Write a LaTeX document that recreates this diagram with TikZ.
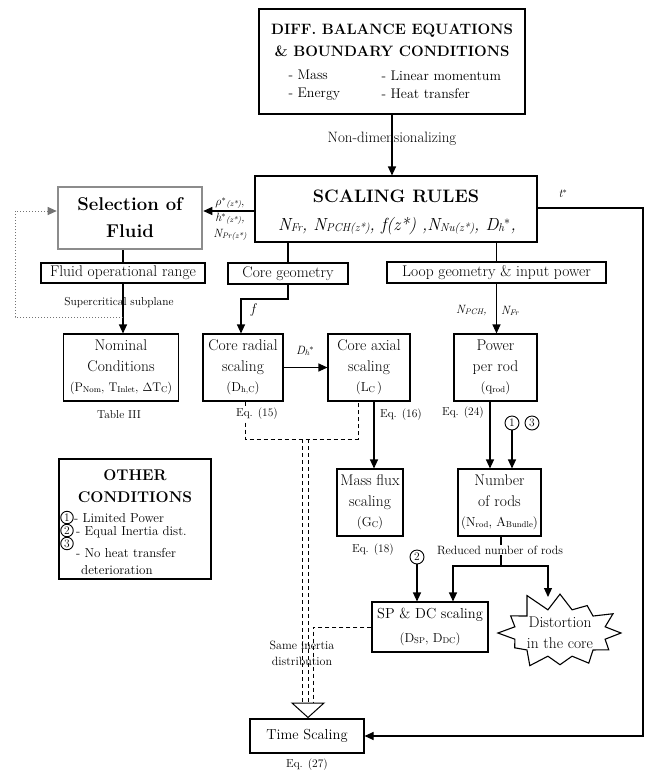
\documentclass[tikz,border=0pt]{standalone}
\usepackage{fontspec}
\usetikzlibrary{arrows.meta,shapes.symbols}
\newcommand\fsz[2]{\fontsize{#1}{#2}\selectfont}
\newcommand\lsb[1]{\raisebox{-0.8pt}{\fontsize{8.5}{9}\selectfont #1}}
\newcommand\isb[1]{\raisebox{-1.5pt}{\fontsize{11.5}{11}\selectfont\itshape #1}}
\newcommand\ssb[1]{\raisebox{-1pt}{\fontsize{8}{8}\selectfont\itshape #1}}
\tikzset{
  bx/.style={draw, line width=1.1pt, inner sep=0pt, align=center, font=\fsz{15.5}{20.5}},
  lbl/.style={inner sep=1pt, font=\fsz{11.5}{16}},
  circ/.style={draw, circle, line width=0.9pt, inner sep=0pt, minimum size=14pt, font=\fsz{11.5}{11}},
  conn/.style={line width=1.1pt, -{Triangle[length=9pt,width=8pt]}},
  plain/.style={line width=1.1pt},
  dsh/.style={line width=1pt, dash pattern=on 4pt off 3pt},
  octext/.style={anchor=base west, inner sep=0pt, font=\fsz{13}{16}},
}
\begin{document}
\begin{tikzpicture}[x=1pt,y=-1pt]
\useasboundingbox (0,0) rectangle (651,772);
% boxes
\node[bx, minimum width=266pt, minimum height=105pt] (diff) at (392,61.5) {};
\node[font=\bfseries\fsz{15}{22}, align=center] (difft) at (392,40) {DIFF. BALANCE EQUATIONS\\ \& BOUNDARY CONDITIONS};
\node[font=\fsz{14}{18}, align=left, anchor=west] (dl1) at (285,85) {- Mass\\ - Energy};
\node[font=\fsz{14}{18}, align=left, anchor=west] (dl2) at (378,85) {- Linear momentum\\ - Heat transfer};
\node[bx, minimum width=282pt, minimum height=66pt] (scal) at (396,209) {};
\node[font=\bfseries\fsz{18}{24}] (scalt) at (396,196) {SCALING RULES};
\node[font=\fsz{17.5}{20}\itshape] (scalf) at (397,226) {N\isb{Fr}, N\isb{PCH(z*)}, f(z*) ,N\isb{Nu(z*)}, D\isb{h}$^{*}$,};
\node[bx, draw=black!45, line width=2.6pt, minimum width=144pt, minimum height=62pt, font=\bfseries\fsz{18.5}{27}] (sel) at (130,218) {Selection of\\ Fluid};
\node[bx, minimum width=164pt, minimum height=20pt] (for) at (123,273) {Fluid operational range};
\node[bx, minimum width=115pt, minimum height=67pt] (nom) at (121,367.5) {Nominal\\ Conditions\\ {\fsz{12.5}{18}(P\lsb{Nom}, T\lsb{Inlet}, $\Delta$T\lsb{C})}};
\node[bx, minimum width=120pt, minimum height=21pt] (cg) at (288,273.5) {Core geometry};
\node[bx, minimum width=219pt, minimum height=21pt] (lg) at (496.5,272.5) {Loop geometry \& input power};
\node[bx, minimum width=80pt, minimum height=67pt] (crad) at (243,367.5) {Core radial\\ scaling\\ {\fsz{13}{18}(D\lsb{h,C})}};
\node[bx, minimum width=82pt, minimum height=67pt] (cax) at (369,367.5) {Core axial\\ scaling\\ {\fsz{13}{18}(L\lsb{C}\,)}};
\node[bx, minimum width=83pt, minimum height=67pt] (ppr) at (495.5,367.5) {Power\\ per rod\\ {\fsz{13}{18}(q\lsb{rod})}};
\node[bx, minimum width=66pt, minimum height=67pt] (mf) at (370,502.5) {Mass flux\\ scaling\\ {\fsz{13}{18}(G\lsb{C})}};
\node[bx, minimum width=83pt, minimum height=67pt] (nr) at (499.5,502.5) {Number\\ of rods\\ {\fsz{13}{18}(N\lsb{rod}, A\lsb{Bundle})}};
\node[bx, minimum width=116pt, minimum height=50pt, font=\fsz{14.5}{20}] (spdc) at (430,627) {SP \& DC scaling\\[4pt] {\fsz{13}{18}(D\lsb{SP}, D\lsb{DC})}};
\node[bx, minimum width=114pt, minimum height=34pt, font=\fsz{14.5}{20}] (ts) at (307,736) {Time Scaling};
\node[bx, minimum width=152pt, minimum height=120pt] (oc) at (135,519) {};
\node[draw, line width=1.1pt, starburst, starburst points=12, starburst point height=20pt, random starburst=11, minimum width=131pt, minimum height=88pt, inner sep=0pt, align=center, font=\fsz{15.5}{20.5}] (sb) at (560,633) {Distortion\\ in the core};
% other conditions content
\node[font=\bfseries\fsz{15.5}{22}, align=center] (octitle) at (135,486) {OTHER\\ CONDITIONS};
\node[circ, minimum size=12.5pt] (o1) at (67,517.5) {1};
\node[circ, minimum size=12.5pt] (o2) at (67,530.5) {2};
\node[circ, minimum size=12.5pt] (o3) at (67,543.5) {3};
\node[octext] (t1) at (74,522) {- Limited Power};
\node[octext] (t2) at (76,535.5) {- Equal Inertia dist.};
\node[octext] (t3) at (76,557) {- No heat transfer};
\node[octext] (t4) at (81,574) {deterioration};
% labels
\node[lbl, font=\fsz{15}{16}, fill=white, inner sep=2pt] (nd) at (392,139) {Non-dimensionalizing};
\node[lbl, font=\fsz{12}{16}, align=center] (rho) at (230,219) {$\rho^{*}$\ssb{(z*)},\\ \itshape h$^{*}$\ssb{(z*)},\\ \itshape N\ssb{Pr(z*)}};
\node[lbl, font=\fsz{12}{16}] (tst) at (563,194) {\itshape t$^{*}$};
\node[lbl, fill=white] (scp) at (119,303) {Supercritical subplane};
\node[lbl] (tab) at (119,415) {Table III};
\node[lbl, font=\fsz{14}{16}] (fl) at (253,310) {\itshape f};
\node[lbl, font=\fsz{12}{16}] (dh) at (305,351) {\itshape D\ssb{h}$^{*}$};
\node[lbl, anchor=east, font=\fsz{12}{16}] (npch) at (488,311) {\itshape N\ssb{PCH},};
\node[lbl, anchor=west, font=\fsz{12}{16}] (nfr) at (500,311) {\itshape N\ssb{Fr}};
\node[circ] (c1) at (512,423) {1};
\node[circ] (c3) at (532,423) {3};
\node[circ] (c2) at (417,557) {2};
% connectors
\draw[conn] (diff.south) -- (scal.north -| diff.south);
\draw[conn] ([yshift=7pt]sel.east -| scal.west) -- ([yshift=7pt]sel.east);
\draw[plain] (sel.south -| for.north) -- (for.north);
\draw[conn] (for.south) -- (nom.north -| for.south);
\coordinate (dstart) at (123,317);
\coordinate (dcorner) at (15,317);
\draw[line width=1pt, black!55, dotted, -{Triangle[length=9pt,width=8pt]}] (dstart) -- (dcorner) |- ([yshift=7pt]sel.west);
\draw[plain] (scal.south -| cg.north) -- (cg.north);
\draw[plain] (scal.south -| lg.north) -- (lg.north);
\coordinate (fk) at (241,299);
\draw[conn] (cg.south) |- (fk) -- (crad.north -| fk);
\draw[conn] (lg.south) -- (ppr.north -| lg.south);
\draw[conn] (crad.east) -- (cax.west);
\coordinate (x374) at (374,0);
\coordinate (x490) at (490,0);
\coordinate (x453) at (453,0);
\draw[conn] (cax.south -| x374) -- (mf.north -| x374);
\draw[conn] (ppr.south -| x490) -- (nr.north -| x490);
\draw[conn] (c1) -- (nr.north -| c1);
\coordinate (rj) at (501,566);
\coordinate (sbin) at (548,597);
\draw[plain] (nr.south -| rj) -- (rj);
\draw[conn] (rj) -| (spdc.north -| x453);
\draw[conn] (rj) -| (sbin);
\draw[conn] (c2) -- (spdc.north -| c2);
\coordinate (tc) at (643,208);
\draw[conn] (scal.east |- tc) -- (tc) |- (ts.east);
% dashed inertia lines
\coordinate (x245) at (245,0);
\coordinate (x358) at (358,0);
\coordinate (dk) at (358,439);
\draw[dsh] (crad.south -| x245) |- (dk) -- (cax.south -| x358);
\draw[dsh] (302,439) -- (302,703);
\draw[dsh] (308,439) -- (308,703);
\draw[dsh] (spdc.west) -- (313,627) -- (313,703);
\draw[line width=1pt, fill=white] (292,703) -- (324,703) -- (308,717.5) -- cycle;
\node[lbl, fill=white] (e15) at (257,414) {Eq. (15)};
\node[lbl] (e16) at (401,415) {Eq. (16)};
\node[lbl] (e24) at (463,413) {Eq. (24)};
\node[lbl] (e18) at (373,550) {Eq. (18)};
\node[lbl, fill=white, font=\fsz{12}{16}] (rnr) at (500,550) {Reduced number of rods};
\node[lbl, align=center, font=\fsz{12}{16}] (sid) at (302,653) {Same inertia\\ distribution};
\node[lbl] (e27) at (307,765) {Eq. (27)};
\end{tikzpicture}
\end{document}
